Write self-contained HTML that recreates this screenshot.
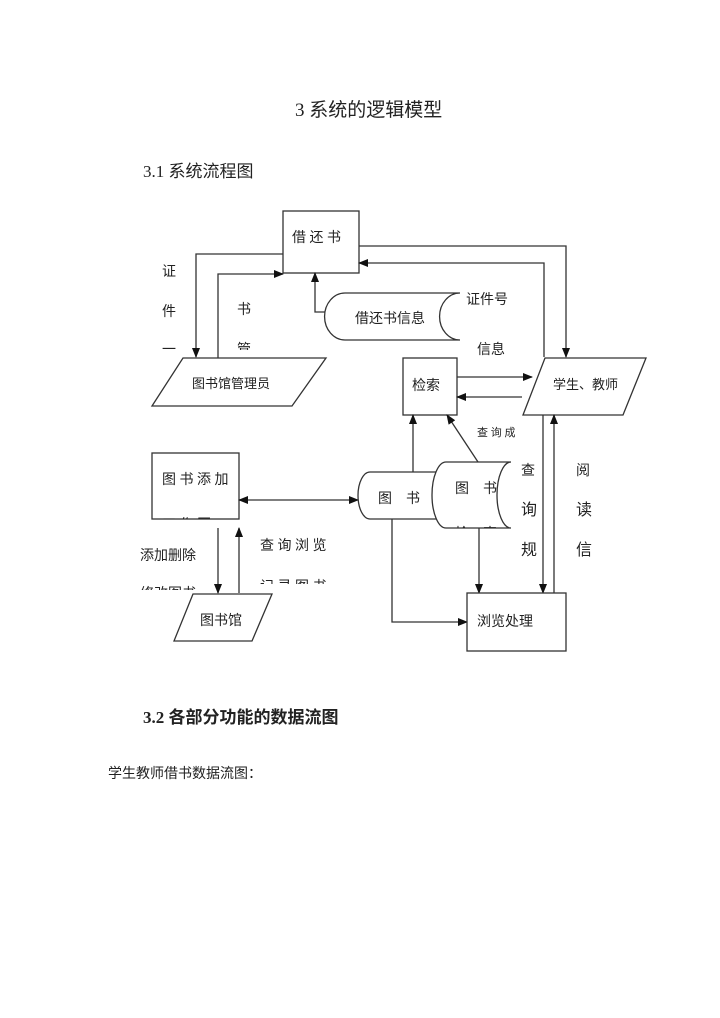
<!DOCTYPE html>
<html><head><meta charset="utf-8"><style>
html,body{margin:0;padding:0;background:#fff;}
body{width:720px;height:1018px;position:relative;overflow:hidden;font-family:"Liberation Serif","Noto Serif CJK SC","Noto Sans CJK SC",serif;color:#222;}
svg{position:absolute;left:0;top:0;}
svg text{font-family:"Liberation Serif","Noto Sans CJK SC",sans-serif;fill:#222;}
</style></head><body>
<svg width="720" height="1018" viewBox="0 0 720 1018">
<defs>
<marker id="a" markerWidth="10" markerHeight="8" refX="9" refY="4" orient="auto" markerUnits="userSpaceOnUse"><path d="M0,0 L10,4 L0,8 z" fill="#111"/></marker>
<marker id="s" markerWidth="10" markerHeight="8" refX="1" refY="4" orient="auto" markerUnits="userSpaceOnUse"><path d="M10,0 L0,4 L10,8 z" fill="#111"/></marker>
<clipPath id="c1"><rect x="150" y="0" width="60" height="350"/></clipPath>
<clipPath id="c2"><rect x="220" y="0" width="60" height="350"/></clipPath>
<clipPath id="c3"><rect x="150" y="453" width="90" height="66"/></clipPath>
<clipPath id="c4"><rect x="130" y="570" width="100" height="20"/></clipPath>
<clipPath id="c5"><rect x="250" y="570" width="100" height="14"/></clipPath>
<clipPath id="c6"><rect x="436" y="462" width="75" height="66"/></clipPath>
</defs>
<text x="295" y="116" font-size="19">3 系统的逻辑模型</text>
<text x="143" y="177" font-size="17">3.1 系统流程图</text>
<text x="143" y="723" font-size="17" font-weight="bold">3.2 各部分功能的数据流图</text>
<text x="108" y="778" font-size="14">学生教师借书数据流图：</text>

<g stroke="#333" stroke-width="1.3" fill="none">
<rect x="283" y="211" width="76" height="62" fill="#fff"/>
<polyline points="283,254 196,254 196,357" marker-end="url(#a)"/>
<polyline points="218,358 218,274 283,274" marker-end="url(#a)"/>
<polyline points="327,312 315,312 315,273" marker-end="url(#a)"/>
<path d="M460,293 L345,293 A20,23 0 0 0 345,340 L460,340 A20,23 0 0 1 460,293" fill="#fff"/>
<polyline points="359,246 566,246 566,357" marker-end="url(#a)"/>
<polyline points="544,357 544,263 359,263" marker-end="url(#a)"/>
<polygon points="152,406 183,358 326,358 292,406" fill="#fff"/>
<rect x="403" y="358" width="54" height="57" fill="#fff"/>
<line x1="457" y1="377" x2="532" y2="377" marker-end="url(#a)"/>
<line x1="522" y1="397" x2="457" y2="397" marker-end="url(#a)"/>
<polygon points="523,415 545,358 646,358 623,415" fill="#fff"/>
<line x1="543" y1="415" x2="543" y2="593" marker-end="url(#a)"/>
<line x1="554" y1="593" x2="554" y2="415" marker-end="url(#a)"/>
<rect x="152" y="453" width="87" height="66" fill="#fff"/>
<line x1="239" y1="500" x2="358" y2="500" marker-start="url(#s)" marker-end="url(#a)"/>
<line x1="413" y1="472" x2="413" y2="415" marker-end="url(#a)"/>
<line x1="478" y1="462" x2="447" y2="415" marker-end="url(#a)"/>
<path d="M370,472 L440,472 L440,519 L370,519 A12,23.5 0 0 1 370,472 z" fill="#fff"/>
<path d="M446,462 L511,462 A14,33 0 0 0 511,528 L446,528 A14,33 0 0 1 446,462 z" fill="#fff"/>
<polyline points="392,519 392,622 467,622" marker-end="url(#a)"/>
<line x1="479" y1="528" x2="479" y2="593" marker-end="url(#a)"/>
<rect x="467" y="593" width="99" height="58" fill="#fff"/>
<line x1="218" y1="528" x2="218" y2="593" marker-end="url(#a)"/>
<line x1="239" y1="593" x2="239" y2="528" marker-end="url(#a)"/>
<polygon points="174,641 193,594 272,594 252,641" fill="#fff"/>
</g>

<text x="292" y="242" font-size="14">借 还 书</text>
<text x="355" y="323" font-size="14">借还书信息</text>
<text x="466" y="304" font-size="14">证件号</text>
<text x="477" y="354" font-size="14">信息</text>
<g clip-path="url(#c1)" font-size="14"><text x="162" y="276">证</text><text x="162" y="316">件</text><text x="162" y="354">一</text></g>
<g clip-path="url(#c2)" font-size="14"><text x="237" y="314">书</text><text x="237" y="354">管</text></g>
<text x="192" y="388" font-size="13">图书馆管理员</text>
<text x="412" y="390" font-size="14">检索</text>
<text x="553" y="389" font-size="13">学生、教师</text>
<text x="477" y="436" font-size="11">查 询 成</text>
<g clip-path="url(#c3)" font-size="14"><text x="162" y="484">图 书 添 加</text><text x="162" y="529">工 作 区</text></g>
<text x="378" y="503" font-size="14">图　书</text>
<g clip-path="url(#c6)" font-size="14"><text x="455" y="493">图　书</text><text x="455" y="538">检　索</text></g>
<text x="521" y="475" font-size="14">查</text><text x="521" y="515">询</text><text x="521" y="555">规</text>
<text x="576" y="475" font-size="14">阅</text><text x="576" y="515">读</text><text x="576" y="555">信</text>
<text x="140" y="560" font-size="14">添加删除</text>
<g clip-path="url(#c4)" font-size="14"><text x="140" y="598">修改图书</text></g>
<text x="260" y="550" font-size="14">查 询 浏 览</text>
<g clip-path="url(#c5)" font-size="14"><text x="260" y="591">记 录 图 书</text></g>
<text x="200" y="625" font-size="14">图书馆</text>
<text x="477" y="626" font-size="14">浏览处理</text>
</svg>
</body></html>
